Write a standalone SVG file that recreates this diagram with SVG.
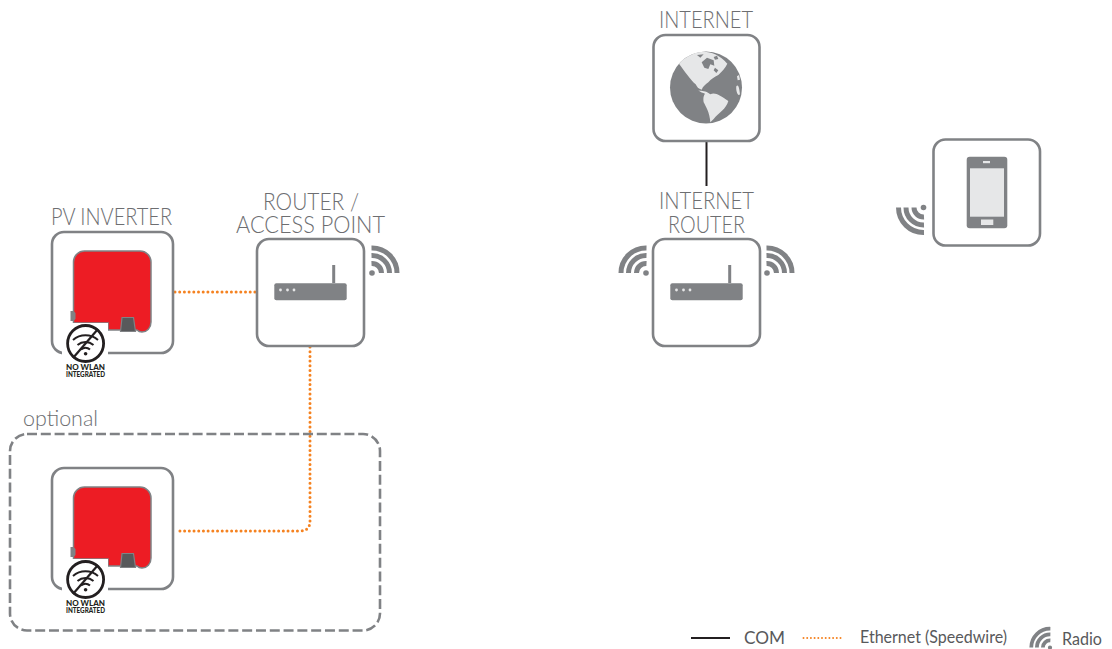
<svg xmlns="http://www.w3.org/2000/svg" xmlns:xlink="http://www.w3.org/1999/xlink" width="1112" height="649" viewBox="0 0 1112 649">
<style>
text{font-family:"Lato","Liberation Sans",sans-serif;font-weight:300;fill:#6d6e71}
.lbl{font-size:22.500px;text-anchor:middle}
.leg{font-size:16.500px;font-weight:400;fill:#58595b}
.box{fill:#fff;stroke:#808285;stroke-width:2.6}
.eth{fill:none;stroke:#f58220;stroke-width:3;stroke-linecap:round;stroke-dasharray:0 4.7}
.g{fill:#808285}
.nw{font-weight:900;fill:#231f20;text-anchor:middle}
</style>
<defs>
<g id="wifi">
<circle cx="0" cy="0" r="2.800" class="g"/>
<path d="M-.5-9.500A9.500 9.500 0 0 1 9.500 0M-.5-17.500A17.500 17.500 0 0 1 17.500 0M-.5-25A25 25 0 0 1 25 0" fill="none" stroke="#808285" stroke-width="5"/>
</g>
<g id="inv">
<rect class="box" x="52" y="232" width="121" height="121" rx="12"/>
<path d="M73.500 323V262a11 11 0 0 1 11-11H140a11 11 0 0 1 11 11v60c0 6-4 10-9 10-3 0-4-1-5-2H108V323Z" fill="#ed1c24" stroke="#808285" stroke-width="1.500"/>
<path d="M120.500 331.500l1.500-14h11.500l2 14Z" fill="#58595b" stroke="#808285" stroke-width="1.200"/>
<path d="M70.500 311h3l2 2v6l-2 2h-3Z" fill="#808285"/>
<rect x="62" y="323" width="46" height="32" fill="#fff"/>
<circle cx="85.600" cy="343.500" r="18" fill="#fff" stroke="#231f20" stroke-width="2.800"/>
<path d="M73 340a19 19 0 0 1 25 0M77.500 345a12.500 12.500 0 0 1 16 0M81 349.500a7 7 0 0 1 9 0" fill="none" stroke="#231f20" stroke-width="2"/>
<circle cx="85.600" cy="353.800" r="1.800" fill="#231f20"/>
<path d="M73 358L98 329" stroke="#231f20" stroke-width="2.200"/>
<text class="nw" x="85.500" y="370.300" style="font-size:6.800px" textLength="39" lengthAdjust="spacingAndGlyphs">NO WLAN</text>
<text class="nw" x="85.500" y="377" style="font-size:6.800px" textLength="39" lengthAdjust="spacingAndGlyphs">INTEGRATED</text>
</g>
<g id="dev">
<rect class="box" x="257" y="239" width="107" height="107" rx="12"/>
<rect class="g" x="274.300" y="283.300" width="72.400" height="17" rx="2"/>
<rect class="g" x="332.200" y="265" width="3" height="18"/>
<circle cx="280.500" cy="290" r="1.400" fill="#e6e7e8"/><circle cx="287.500" cy="290" r="1.400" fill="#e6e7e8"/><circle cx="294" cy="290" r="1.400" fill="#e6e7e8"/>
</g>
</defs>
<g id="connectors">
<path class="eth" d="M175 292H257"/>
<path class="eth" d="M310 347V521Q310 531 300 531H176"/>
<path d="M706.500 141V186" stroke="#231f20" stroke-width="2" fill="none"/>
</g>
<g id="optional">
<rect x="10" y="434" width="370" height="196.500" rx="17" fill="none" stroke="#808285" stroke-width="2.600" stroke-dasharray="10 3.800"/>
<text x="23" y="426" style="font-size:22px" textLength="75" lengthAdjust="spacingAndGlyphs">optional</text>
</g>
<g id="pv-inverter"><use xlink:href="#inv"/><text class="lbl" x="111.500" y="225" textLength="121" lengthAdjust="spacingAndGlyphs">PV INVERTER</text></g>
<g id="pv-inverter-2"><use xlink:href="#inv" y="236"/></g>
<g id="router-ap"><use xlink:href="#dev"/><use xlink:href="#wifi" x="372" y="273"/>
<text class="lbl" x="311" y="209.500" textLength="96" lengthAdjust="spacingAndGlyphs">ROUTER /</text><text class="lbl" x="310.500" y="232.500" textLength="149" lengthAdjust="spacingAndGlyphs">ACCESS POINT</text></g>
<g id="internet"><rect class="box" x="653.500" y="35" width="106" height="106" rx="12"/>
<circle cx="706" cy="87.500" r="36" fill="#808285"/>
<path transform="translate(665 47) scale(.3333)" fill="#e6e7e8" d="M42 50C58 32 78 22 100 16C125 10 160 18 187 50C180 64 172 72 160 84C148 90 138 96 130 106C122 112 114 118 110 128C100 126 96 120 92 112C78 100 58 72 42 50ZM100 130C112 134 120 130 136 142C150 134 166 146 190 162C184 186 160 198 146 216L136 226C134 196 122 178 116 166C114 152 116 146 120 140C114 138 106 136 100 130ZM214 118C220 108 224 128 225 142C218 150 212 130 214 118ZM216 88L222 84L225 98L218 100Z"/>
<path transform="translate(665 47) scale(.3333)" fill="#808285" d="M110 46L126 32L146 40L148 56L136 52L130 66L118 62ZM96 24L116 22L106 32ZM150 62L160 70L154 78L146 70ZM146 30L156 26L160 36L150 38Z"/>
<text class="lbl" x="706" y="27.500" textLength="94" lengthAdjust="spacingAndGlyphs">INTERNET</text></g>
<g id="internet-router"><use xlink:href="#dev" x="396"/><use xlink:href="#wifi" x="767" y="273"/><use xlink:href="#wifi" transform="translate(646 273) scale(-1 1)"/>
<text class="lbl" x="706.500" y="208.500" textLength="95" lengthAdjust="spacingAndGlyphs">INTERNET</text><text class="lbl" x="706.500" y="232.500" textLength="77" lengthAdjust="spacingAndGlyphs">ROUTER</text></g>
<g id="smartphone"><rect class="box" x="933.500" y="139.500" width="106.500" height="106" rx="12"/>
<rect x="966.700" y="156.700" width="40.600" height="71.600" rx="3" fill="#808285"/>
<rect x="970" y="168.300" width="34" height="48.400" fill="#e6e7e8"/>
<rect x="983" y="161" width="7" height="2.200" fill="#e6e7e8"/>
<rect x="981" y="219.500" width="12.300" height="5.500" fill="#e6e7e8"/>
<use xlink:href="#wifi" transform="translate(923.500 207.500) rotate(180)"/></g>
<g id="legend">
<path d="M691 638H730" stroke="#231f20" stroke-width="2" fill="none"/>
<text class="leg" x="744" y="644" textLength="41" lengthAdjust="spacingAndGlyphs">COM</text>
<path d="M803.500 638H843" fill="none" stroke="#f58220" stroke-width="2" stroke-linecap="round" stroke-dasharray="0 3.700"/>
<text class="leg" x="860" y="643" textLength="147" lengthAdjust="spacingAndGlyphs">Ethernet (Speedwire)</text>
<use xlink:href="#wifi" transform="translate(1050 647.500) scale(-.75 .75)"/>
<text class="leg" x="1062" y="645" textLength="40" lengthAdjust="spacingAndGlyphs">Radio</text>
</g>
</svg>
